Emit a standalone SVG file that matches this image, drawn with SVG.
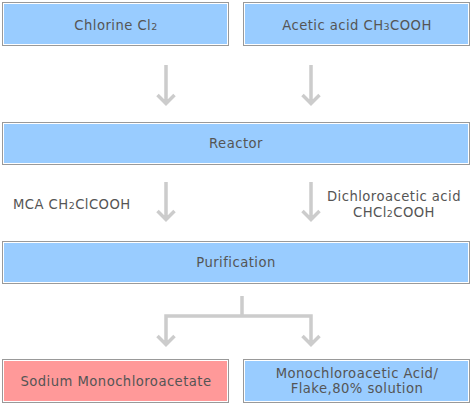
<svg xmlns="http://www.w3.org/2000/svg" width="472" height="406" viewBox="0 0 472 406">
<style>
.outer{fill:#fff;stroke:#999;stroke-width:1}
.blue{fill:#99ccff}
.pink{fill:#ff9999}
text{font-family:"DejaVu Sans","Liberation Sans",sans-serif;font-size:13.2px;fill:#555;text-anchor:middle;letter-spacing:0.45px}
.l{text-anchor:start}
.sub{font-size:9.5px}
.conn{fill:none;stroke:#cccccc;stroke-width:3.5}
</style>
<rect width="472" height="406" fill="#fff"/>
<g id="chlorine">
<rect class="outer" x="2.5" y="2.5" width="226" height="43"/>
<rect class="blue" x="4" y="4" width="223" height="40"/>
<text x="116" y="30">Chlorine Cl<tspan class="sub">2</tspan></text>
</g>
<g id="acetic">
<rect class="outer" x="243.5" y="2.5" width="226" height="43"/>
<rect class="blue" x="245" y="4" width="223" height="40"/>
<text x="357" y="30">Acetic acid CH<tspan class="sub">3</tspan>COOH</text>
</g>
<g id="reactor">
<rect class="outer" x="2.5" y="122.5" width="467" height="42"/>
<rect class="blue" x="4" y="124" width="464" height="39"/>
<text x="236" y="148">Reactor</text>
</g>
<g id="purification">
<rect class="outer" x="2.5" y="241.5" width="467" height="42"/>
<rect class="blue" x="4" y="243" width="464" height="39"/>
<text x="236" y="267">Purification</text>
</g>
<g id="sodium">
<rect class="outer" x="2.5" y="359.5" width="226" height="43"/>
<rect class="pink" x="4" y="361" width="223" height="40"/>
<text x="116" y="386">Sodium Monochloroacetate</text>
</g>
<g id="mca-product">
<rect class="outer" x="243.5" y="359.5" width="226" height="43"/>
<rect class="blue" x="245" y="361" width="223" height="40"/>
<text x="357" y="378">Monochloroacetic Acid/</text>
<text x="357" y="393">Flake,80% solution</text>
</g>
<g id="connectors">
<path class="conn" d="M166,65 V104 M157.5,95 L166,103.5 L174.5,95"/>
<path class="conn" d="M311,65 V104 M302.5,95 L311,103.5 L319.5,95"/>
<path class="conn" d="M166,182 V220 M157.5,211 L166,219.5 L174.5,211"/>
<path class="conn" d="M311,182 V220 M302.5,211 L311,219.5 L319.5,211"/>
<path class="conn" d="M242,296 V316 M166,345 V316 H311 V345 M157.5,336 L166,344.5 L174.5,336 M302.5,336 L311,344.5 L319.5,336"/>
</g>
<g id="labels">
<text class="l" x="13" y="209">MCA CH<tspan class="sub">2</tspan>ClCOOH</text>
<text x="394" y="201">Dichloroacetic acid</text>
<text x="394" y="217">CHCl<tspan class="sub">2</tspan>COOH</text>
</g>
</svg>
